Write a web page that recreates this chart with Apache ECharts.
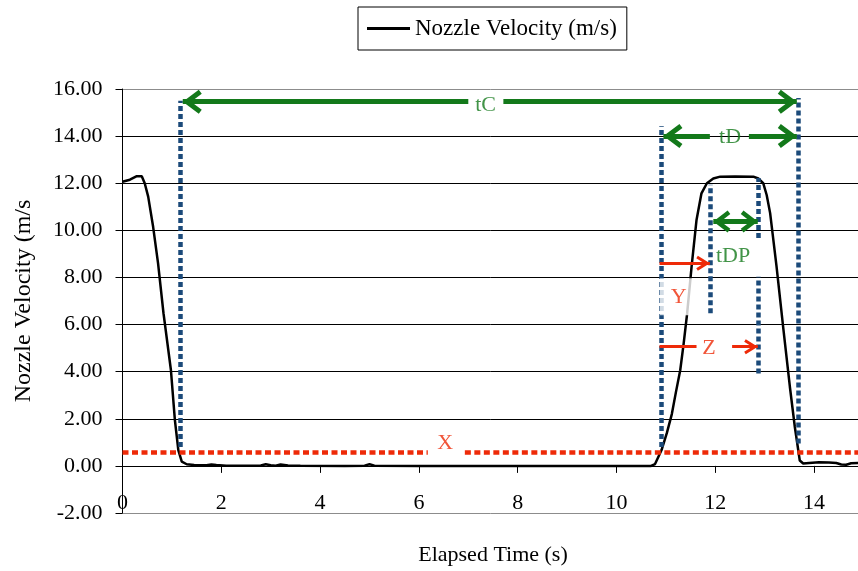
<!DOCTYPE html>
<html><head><meta charset="utf-8">
<script src="https://cdn.jsdelivr.net/npm/echarts@6/dist/echarts.min.js"></script>
<style>html,body{margin:0;padding:0;background:#fff}#c{width:858px;height:571px}</style>
</head><body><div id="c"></div>
<script>
const seriesName = 'Nozzle Velocity (m/s)';
const xName = 'Elapsed Time (s)';
const yName = 'Nozzle Velocity (m/s';
const xMin = 0, xMax = 15, xStep = 2;
const yMin = -2, yMax = 16, yStep = 2;

const time = [0, 0.15, 0.29, 0.39, 0.45, 0.52, 0.62, 0.72, 0.83, 0.98, 1.06, 1.13, 1.2, 1.3, 1.45, 1.7, 1.8, 1.9, 2.1, 2.5, 2.8, 2.9, 3.0, 3.1, 3.2, 3.35, 3.6, 4.5, 4.9, 5.0, 5.1, 6, 8, 10, 10.7, 10.78, 10.91, 11.02, 11.12, 11.2, 11.29, 11.36, 11.43, 11.52, 11.62, 11.72, 11.83, 11.96, 12.1, 12.4, 12.77, 12.87, 12.97, 13.04, 13.11, 13.24, 13.38, 13.51, 13.61, 13.71, 13.78, 13.9, 14.1, 14.3, 14.45, 14.55, 14.65, 14.75, 14.9, 15];
const velocity = [12.06, 12.15, 12.3, 12.3, 12.0, 11.43, 10.15, 8.6, 6.48, 4.07, 1.95, 0.67, 0.18, 0.07, 0.04, 0.03, 0.06, 0.04, 0.01, 0.01, 0.02, 0.07, 0.03, 0.01, 0.06, 0.02, 0.01, 0.0, 0.01, 0.07, 0.01, 0.0, 0.0, 0.0, 0.0, 0.08, 0.66, 1.4, 2.2, 3.1, 4.06, 5.2, 6.47, 8.46, 10.44, 11.57, 12.0, 12.2, 12.28, 12.29, 12.28, 12.2, 12.0, 11.5, 10.73, 8.46, 5.77, 3.35, 1.65, 0.23, 0.1, 0.12, 0.15, 0.14, 0.12, 0.06, 0.05, 0.11, 0.12, 0.12];

// annotation geometry in data units
const blueLines = [[1.16, 0.8, 15.5], [10.91, 0.8, 14.42], [11.89, 6.48, 11.94], [12.86, 9.67, 12.22], [12.86, 3.92, 8.03], [13.68, 0.95, 15.62]]; // [t, vFrom, vTo]
const redDotted = [[0, 6.18, 0.6], [6.93, 15, 0.6]]; // [tFrom, tTo, v]
const greenArrows = [[1.22, 7.0, 15.46, 1, 0], [7.71, 13.65, 15.46, 0, 1], [10.95, 11.89, 14.0, 1, 0], [12.68, 13.65, 14.0, 0, 1], [11.96, 12.86, 10.38, 1, 1]]; // [tFrom,tTo,v,headFrom,headTo]
const redArrows = [[10.87, 11.89, 8.6, 0, 1], [10.87, 11.62, 5.06, 0, 0], [12.34, 12.86, 5.06, 0, 1]];
const labelTexts = ['tC', 'tD', 'tDP', 'Y', 'Z', 'X'];
const labelT = [7.35, 12.3, 12.36, 11.22, 11.87, 6.53];
const labelV = [15.3, 13.97, 8.88, 7.18, 4.99, 0.96];

const FONT = '"Liberation Serif", "Times New Roman", serif';
const GREEN = '#13791a', RED = '#ee2a08', BLUE = '#1b4a7a';
const chevGreen = 'path://M12,17L24,33L20,36L12,25.3L4,36L0,33ZM12,-2L12.01,-2L12,-1.99Z';
const chevRed = 'path://M7.5,13.6L15,25.6L12.46,27.19L7.5,19.26L2.54,27.19L0,25.6ZM7.5,0L7.51,0L7.5,0.01Z';

const ml = [];
blueLines.forEach(([t, a, b]) => {
  const ls = {color: BLUE, width: 4.5, type: [5, 3]};
  ml.push([{coord: [t, a], symbol: 'none', lineStyle: ls}, {coord: [t, b], symbol: 'none', lineStyle: ls}]);
});
redDotted.forEach(([a, b, v]) => {
  const ls = {color: RED, width: 4.5, type: [6, 3.5]};
  ml.push([{coord: [a, v], symbol: 'none', lineStyle: ls}, {coord: [b, v], symbol: 'none', lineStyle: ls}]);
});
greenArrows.forEach(([a, b, v, h1, h2], i) => {
  const ls = {color: GREEN, width: 5, type: 'solid'};
  const sz = i === 4 ? [22, 34] : [24, 38];
  ml.push([{coord: [a, v], symbol: h1 ? chevGreen : 'none', symbolSize: sz, lineStyle: ls},
           {coord: [b, v], symbol: h2 ? chevGreen : 'none', symbolSize: sz, lineStyle: ls}]);
});
redArrows.forEach(([a, b, v, h1, h2]) => {
  const ls = {color: RED, width: 3, type: 'solid'};
  const sz = [15, 27.2];
  ml.push([{coord: [a, v], symbol: h1 ? chevRed : 'none', symbolSize: sz, lineStyle: ls},
           {coord: [b, v], symbol: h2 ? chevRed : 'none', symbolSize: sz, lineStyle: ls}]);
});

const labelData = labelTexts.map((txt, i) => {
  const isRed = (txt === 'X' || txt === 'Y' || txt === 'Z');
  const lab = {color: isRed ? RED : GREEN};
  if (txt === 'Y') { lab.backgroundColor = '#fff'; lab.padding = [8, 7, 7, 11]; }
  return {value: [labelT[i], labelV[i]], name: txt, label: lab};
});

const nSplit = Math.round((yMax - yMin) / yStep) + 1;
const splitColors = [];
for (let i = 0; i < nSplit; i++) splitColors.push(i === 0 || i === nSplit - 1 ? '#8c8c8c' : '#000');

const chart = echarts.init(document.getElementById('c'), null, {renderer: 'canvas'});
chart.setOption({
  animation: false,
  backgroundColor: '#fff',
  textStyle: {fontFamily: FONT},
  grid: {left: 122.5, top: 89, width: 741, height: 424, containLabel: false, outerBoundsMode: 'none'},
  legend: {
    data: [{name: seriesName, icon: 'rect'}], left: 358, top: 7, padding: [10, 10, 10, 9],
    borderColor: '#000', borderWidth: 1, itemWidth: 43, itemHeight: 3, itemGap: 8,
    itemStyle: {color: '#000', borderWidth: 0},
    textStyle: {fontFamily: FONT, fontSize: 23, color: '#000'}
  },
  xAxis: {
    type: 'value', min: xMin, max: xMax, interval: xStep,
    name: xName, nameLocation: 'middle', nameGap: 31,
    nameTextStyle: {fontFamily: FONT, fontSize: 22, color: '#000'},
    axisLine: {show: true, onZero: true, lineStyle: {color: '#000', width: 1}},
    axisTick: {show: true, inside: false, length: 7, lineStyle: {color: '#000'}},
    axisLabel: {show: true, margin: -21, fontFamily: FONT, fontSize: 22, color: '#000', showMaxLabel: false},
    splitLine: {show: false}
  },
  yAxis: {
    type: 'value', min: yMin, max: yMax, interval: yStep,
    name: yName, nameLocation: 'middle', nameGap: 87, nameRotate: 90,
    nameTextStyle: {fontFamily: FONT, fontSize: 24, color: '#000'},
    axisLine: {show: true, lineStyle: {color: '#000', width: 1}},
    axisTick: {show: true, inside: false, length: 7, lineStyle: {color: '#000'}},
    axisLabel: {margin: 20, fontFamily: FONT, fontSize: 22, color: '#000', formatter: v => v.toFixed(2)},
    splitLine: {show: true, lineStyle: {color: splitColors, width: 1}}
  },
  series: [
    {
      name: seriesName, type: 'line', z: 3,
      data: time.map((t, i) => [t, velocity[i]]),
      symbol: 'none', showSymbol: false, smooth: false,
      lineStyle: {color: '#000', width: 2.5}, itemStyle: {color: '#000'}
    },
    {
      name: 'annotations', type: 'line', z: 4, data: [], silent: true,
      markLine: {silent: true, animation: false, label: {show: false}, symbol: 'none', data: ml}
    },
    {
      name: 'labels', type: 'scatter', z: 10, symbolSize: 0, silent: true,
      data: labelData,
      label: {show: true, position: 'inside', formatter: p => p.name, fontFamily: FONT, fontSize: 22}
    }
  ]
});
</script>
</body></html>
